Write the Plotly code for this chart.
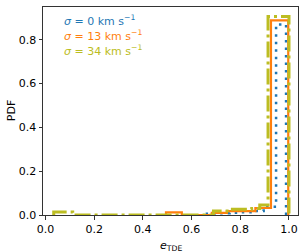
import plotly.graph_objects as go

# Step-histogram data (bin edges and per-bin fractions)
edges_0 = [0.663, 0.710, 0.756, 0.803, 0.849, 0.896, 0.947, 0.988]
heights_0 = [0.006, 0.008, 0.010, 0.012, 0.018, 0.038, 0.869]

edges_13 = [0.495, 0.560, 0.620, 0.683, 0.745, 0.862, 0.926, 0.997]
heights_13 = [0.012, 0.0, 0.0, 0.010, 0.018, 0.032, 0.888]

edges_34 = [0.034, 0.112, 0.690, 0.760, 0.847, 0.880, 0.914, 1.000]
heights_34 = [0.014, 0.0, 0.018, 0.026, 0.030, 0.046, 0.906]

labels = ["<i>σ</i> = 0 km s<sup>−1</sup>",
          "<i>σ</i> = 13 km s<sup>−1</sup>",
          "<i>σ</i> = 34 km s<sup>−1</sup>"]
colors = ["#1f77b4", "#ff7f0e", "#bcbd22"]
x_ticks = [0.0, 0.2, 0.4, 0.6, 0.8, 1.0]
y_ticks = [0.0, 0.2, 0.4, 0.6, 0.8]


def step_xy(edges, heights):
    xs = [edges[0]] + list(edges[:-1]) + [edges[-1], edges[-1]]
    ys = [0] + list(heights) + [heights[-1], 0]
    return xs, ys


fig = go.Figure()
series = [
    (edges_0, heights_0, colors[0], 2.5, "2.5px,5px"),
    (edges_13, heights_13, colors[1], 2.2, "solid"),
    (edges_34, heights_34, colors[2], 3.0, "16px,4px,3px,4px"),
]
for e, h, c, w, d in series:
    xs, ys = step_xy(e, h)
    fig.add_trace(go.Scatter(x=xs, y=ys, mode="lines", line_shape="hv",
                             line=dict(color=c, width=w, dash=d),
                             showlegend=False, hoverinfo="skip"))

for i, (lab, c) in enumerate(zip(labels, colors)):
    fig.add_annotation(xref="paper", yref="paper", x=0.075, y=0.935 - i * 0.072,
                       xanchor="left", yanchor="middle", showarrow=False,
                       text=lab, font=dict(color=c, size=11))

# axis titles as annotations at fixed pixel offsets
fig.add_annotation(xref="paper", yref="paper", x=0.5, y=-0.105, xanchor="center",
                   yanchor="top", showarrow=False, text="<i>e</i><sub>TDE</sub>",
                   font=dict(size=11, color="black"))
fig.add_annotation(xref="paper", yref="paper", x=-0.125, y=0.5, xanchor="center",
                   yanchor="middle", showarrow=False, text="PDF", textangle=-90,
                   font=dict(size=11, color="black"))

axis_common = dict(showline=True, linecolor="#333", linewidth=1, mirror=True,
                   ticks="outside", ticklen=3.5, tickwidth=1, tickcolor="#333",
                   showgrid=False, zeroline=False, automargin=False,
                   tickfont=dict(size=11, color="black"))
fig.update_xaxes(range=[-0.01, 1.037], tickvals=x_ticks,
                 ticktext=[f"{v:.1f}" for v in x_ticks], **axis_common)
fig.update_yaxes(range=[0, 0.949], tickvals=y_ticks,
                 ticktext=[f"{v:.1f}" for v in y_ticks], **axis_common)
fig.update_layout(width=307, height=252, margin=dict(l=43, r=9, t=7, b=37),
                  plot_bgcolor="white", paper_bgcolor="white",
                  font=dict(family="DejaVu Sans", size=11, color="black"))
fig.write_html("out.html", config={"displayModeBar": False},
               post_script="document.body.style.margin='0px';document.body.style.overflow='hidden';")
